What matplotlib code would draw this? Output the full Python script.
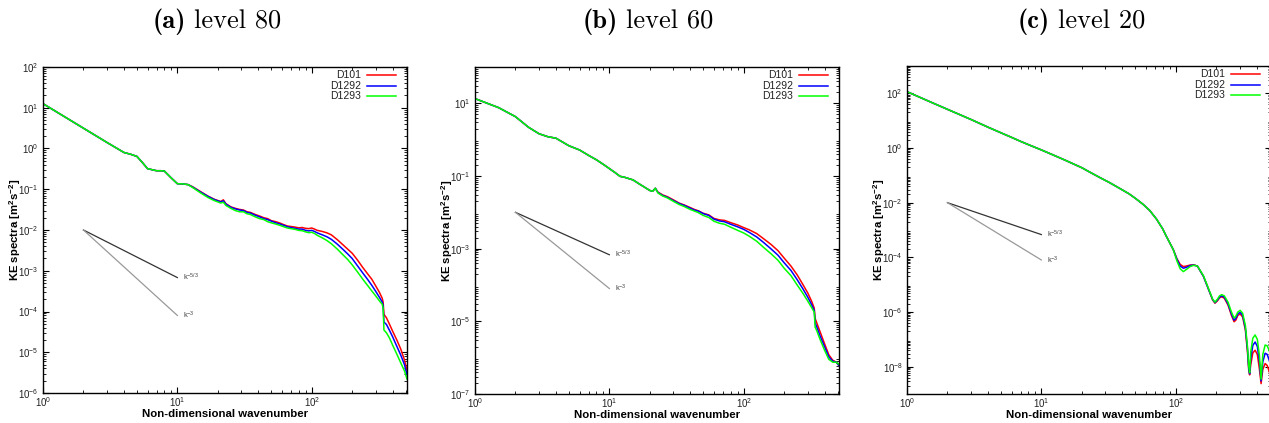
import numpy as np
import matplotlib
matplotlib.use("Agg")
import matplotlib.pyplot as plt
from matplotlib.ticker import LogLocator, LogFormatterSciNotation, NullFormatter, FixedLocator

plt.rcParams['font.family'] = ['Liberation Sans', 'DejaVu Sans']
plt.rcParams['mathtext.fontset'] = 'custom'
plt.rcParams['mathtext.rm'] = 'Liberation Sans'
plt.rcParams['mathtext.it'] = 'Liberation Sans:italic'
plt.rcParams['mathtext.bf'] = 'Liberation Sans:bold'
plt.rcParams['mathtext.default'] = 'regular'

# ---------------- data ----------------
series_names = ['D101', 'D1292', 'D1293']
series_colors = ['#ff0000', '#0000ff', '#00ff00']

# (a) level 80
k_a = [1, 1.5, 2, 3, 4, 4.5, 5, 5.5, 6, 7, 7.5, 8, 9, 10, 11, 12,
       13, 15, 17, 19, 20, 21, 22, 23, 25, 27, 29, 31, 33, 35, 38, 41, 44, 47, 50,
       54, 58, 62, 66, 70, 75, 80, 85, 90, 95, 100, 105, 110, 120, 130, 140, 155,
       170, 185, 200, 220, 240, 260, 280, 300, 320, 335, 340, 345, 360, 380, 400,
       430, 460, 490, 512]
low_a = [12.6, 5.6, 3.15, 1.4, 0.80, 0.72, 0.64, 0.45, 0.32, 0.285, 0.285, 0.28,
         0.19, 0.137, 0.135, 0.13]
d101_a = low_a + [0.115, 0.086, 0.067, 0.056, 0.053, 0.050, 0.055, 0.044, 0.037, 0.034,
                  0.032, 0.031, 0.028, 0.027, 0.024, 0.022, 0.020, 0.019, 0.017, 0.016,
                  0.0148, 0.0135, 0.0125, 0.0122, 0.0118, 0.0113, 0.0115, 0.011, 0.0108,
                  0.0112, 0.0105, 0.0098, 0.0092, 0.0085, 0.0076, 0.0058, 0.0044, 0.0034,
                  0.0027, 0.0018, 0.0012, 0.00085, 0.00062, 0.00042, 0.00029, 0.00021,
                  0.00017, 8.5e-5, 7e-5, 4.8e-5, 3.3e-5, 2.0e-5, 1.2e-5, 6.5e-6, 3.6e-6]
d1292_a = low_a + [0.113, 0.084, 0.066, 0.055, 0.052, 0.049, 0.052, 0.043, 0.036, 0.033,
                   0.031, 0.030, 0.027, 0.026, 0.023, 0.021, 0.019, 0.018, 0.0165, 0.015,
                   0.014, 0.013, 0.012, 0.0115, 0.011, 0.0105, 0.0105, 0.0098, 0.0095,
                   0.0098, 0.0092, 0.0085, 0.0076, 0.0068, 0.0059, 0.0045, 0.0034, 0.0026,
                   0.0020, 0.0013, 0.00088, 0.00062, 0.00044, 0.00031, 0.00022, 0.00017,
                   0.00014, 5.5e-5, 4.8e-5, 3.4e-5, 2.4e-5, 1.4e-5, 8.5e-6, 5e-6, 2.8e-6]
d1293_a = low_a + [0.11, 0.08, 0.062, 0.052, 0.049, 0.046, 0.048, 0.040, 0.034, 0.030,
                   0.028, 0.028, 0.025, 0.024, 0.021, 0.019, 0.018, 0.016, 0.015, 0.014,
                   0.013, 0.012, 0.0112, 0.0108, 0.0104, 0.0098, 0.0096, 0.009, 0.0086,
                   0.0088, 0.0082, 0.0074, 0.0064, 0.0055, 0.0046, 0.0034, 0.0025, 0.0019,
                   0.0014, 0.00092, 0.00062, 0.00044, 0.00032, 0.00024, 0.00018, 0.00015,
                   0.00012, 3.5e-5, 3e-5, 2.2e-5, 1.5e-5, 9e-6, 5.5e-6, 3.5e-6, 2.2e-6]

# (b) level 60
k_b = [1, 1.5, 2, 2.5, 3, 3.5, 4, 5, 6, 7, 8, 9, 10, 11, 12, 13, 15, 17, 19, 20, 21,
       22, 23, 25, 27, 30, 33, 36,
       40, 43, 46, 50, 55, 60, 66, 72, 80, 90, 100, 110, 125, 140, 160, 180, 200,
       225, 250, 275, 300, 320, 335, 340, 350, 370, 400, 430, 460, 490, 512]
low_b = [13.5, 7.6, 4.3, 2.2, 1.45, 1.2, 1.1, 0.68, 0.52, 0.37, 0.28, 0.21, 0.16,
         0.125, 0.098, 0.092, 0.078, 0.058, 0.045, 0.040, 0.038, 0.046]
d101_b = low_b + [0.036, 0.030, 0.027, 0.022, 0.018, 0.016,
                  0.0135, 0.012, 0.011, 0.0094, 0.0085, 0.0068, 0.0062, 0.0060, 0.0052,
                  0.0045, 0.0038, 0.0033, 0.0026, 0.0019, 0.0013, 0.00088, 0.00055,
                  0.00033, 0.00019, 0.000105, 6e-5, 3.6e-5, 2.3e-5, 1.2e-5, 9e-6, 5.2e-6,
                  2.4e-6, 1.2e-6, 8.5e-7, 7.5e-7, 6e-7]
d1292_b = low_b + [0.035, 0.029, 0.026, 0.021, 0.0175, 0.0155,
                   0.013, 0.0115, 0.0108, 0.0092, 0.0082, 0.0065, 0.0058, 0.0055, 0.0047,
                   0.0040, 0.0034, 0.0028, 0.0021, 0.0015, 0.00098, 0.00066, 0.00041,
                   0.00025, 0.00014, 8e-5, 4.6e-5, 2.9e-5, 2.0e-5, 9e-6, 7e-6, 4e-6,
                   2e-6, 1.05e-6, 8e-7, 7.5e-7, 6e-7]
d1293_b = low_b + [0.034, 0.028, 0.025, 0.020, 0.0165, 0.0145,
                   0.012, 0.0108, 0.0098, 0.0082, 0.0072, 0.0057, 0.005, 0.0047, 0.0039,
                   0.0032, 0.0027, 0.0022, 0.0016, 0.0011, 0.00072, 0.00048, 0.00029,
                   0.00018, 0.0001, 6e-5, 3.6e-5, 2.4e-5, 1.8e-5, 7e-6, 5.5e-6, 3.2e-6,
                   1.6e-6, 9e-7, 7.5e-7, 7.5e-7, 6.5e-7]

# (c) level 20
k_c = [1, 1.5, 2, 3, 4, 5, 6, 7, 8, 10, 12, 15, 18, 20, 23, 27, 32, 38, 45, 50, 57,
       64, 72, 80, 85, 90, 96,
       102, 108, 114, 120, 128, 136, 145, 161, 175, 188, 196, 205, 212, 220, 230,
       245, 260, 272, 280, 290, 302, 315, 330, 342, 350, 355, 362, 375, 390, 405,
       420, 432, 445, 463, 480, 495, 512]
low_c = [115, 48, 26, 11, 5.8, 3.6, 2.45, 1.75, 1.33, 0.85, 0.58, 0.36, 0.24, 0.19,
         0.13, 0.085, 0.055, 0.034, 0.021, 0.0145, 0.0088, 0.0052, 0.0025, 0.0011,
         0.0006, 0.00035, 0.00019]
d101_c = low_c + [9e-5, 5.5e-5, 4.6e-5, 4.8e-5, 5.2e-5, 5.3e-5, 4.8e-5, 2.0e-5, 7e-6,
                  2.8e-6, 2.1e-6, 2.6e-6, 3.3e-6, 3.6e-6, 3.2e-6, 1.8e-6, 7.5e-7, 4.4e-7,
                  5e-7, 7.5e-7, 8.5e-7, 6.5e-7, 2.2e-7, 3.5e-8, 7e-9, 5e-9, 1.2e-8,
                  3.2e-8, 4e-8, 2.8e-8, 8e-9, 2.4e-9, 8e-9, 1.3e-8, 1.1e-8, 7e-9, 4e-9]
d1292_c = low_c + [8.5e-5, 4.8e-5, 4e-5, 4.3e-5, 5.0e-5, 5.2e-5, 4.8e-5, 2.0e-5, 7e-6,
                   2.9e-6, 2.2e-6, 2.8e-6, 3.5e-6, 3.9e-6, 3.5e-6, 2.0e-6, 8.5e-7, 5e-7,
                   5.8e-7, 8.5e-7, 9.7e-7, 7.5e-7, 2.6e-7, 4.5e-8, 8e-9, 5.5e-9, 2e-8,
                   6e-8, 8e-8, 5.5e-8, 1.5e-8, 3e-9, 1.5e-8, 3.1e-8, 2.8e-8, 1.8e-8, 1e-8]
d1293_c = low_c + [7.5e-5, 3.8e-5, 3.0e-5, 3.6e-5, 4.6e-5, 5.1e-5, 4.8e-5, 2.1e-5, 7.4e-6,
                   3.0e-6, 2.3e-6, 3.0e-6, 3.9e-6, 4.3e-6, 3.9e-6, 2.3e-6, 1.0e-6, 6e-7,
                   7e-7, 1.0e-6, 1.15e-6, 9e-7, 3.2e-7, 5.5e-8, 1e-8, 6e-9, 3.5e-8,
                   1.1e-7, 1.45e-7, 1e-7, 2.5e-8, 3.5e-9, 2.8e-8, 6.2e-8, 5.8e-8, 4e-8, 2.5e-8]

# reference slopes
k_ref = [2, 10]
ref_53 = [1e-2, 6.8e-4]
ref_3 = [1e-2, 8e-5]

titles = [('(a)', 'level 80'), ('(b)', 'level 60'), ('(c)', 'level 20')]
ylims = [(1e-6, 1e2), (1e-7, 1e2), (1e-9, 1e3)]
panels = [
    (k_a, [d101_a, d1292_a, d1293_a]),
    (k_b, [d101_b, d1292_b, d1293_b]),
    (k_c, [d101_c, d1292_c, d1293_c]),
]

# ---------------- layout (pixels of a 1269x423 image) ----------------
W, H = 1269, 423
fig = plt.figure(figsize=(W / 100, H / 100), dpi=100)
boxes = [(43, 67, 364, 326), (475, 67, 364, 327), (907, 66, 364, 328)]

for i, (box, (kk, ys)) in enumerate(zip(boxes, panels)):
    x0, top, w, h = box
    ax = fig.add_axes([x0 / W, 1 - (top + h) / H, w / W, h / H])
    for vals, c, name in zip(ys, series_colors, series_names):
        ax.plot(kk, vals, color=c, lw=1.1)
    ax.plot(k_ref, ref_53, color='#333333', lw=0.9)
    ax.plot(k_ref, ref_3, color='#999999', lw=0.9)
    ax.text(11, ref_53[1], r'k$^{-5/3}$', fontsize=5.5, color='#444444', va='center')
    ax.text(11, ref_3[1], r'k$^{-3}$', fontsize=5.5, color='#444444', va='center')

    ax.set_xscale('log')
    ax.set_yscale('log')
    ax.set_xlim(1, 512)
    ax.set_ylim(*ylims[i])
    if i == 2:
        ax.yaxis.set_major_locator(FixedLocator([1e2, 1e0, 1e-2, 1e-4, 1e-6, 1e-8]))
        ax.yaxis.set_major_formatter(LogFormatterSciNotation())
    ax.yaxis.set_minor_locator(LogLocator(base=10, subs=np.arange(2, 10), numticks=30))
    ax.xaxis.set_minor_formatter(NullFormatter())
    ax.yaxis.set_minor_formatter(NullFormatter())
    ax.tick_params(which='both', direction='in', top=True, right=True,
                   labelsize=7, labelcolor='#222222')
    ax.tick_params(which='major', length=4, width=0.8, pad=3)
    ax.tick_params(axis='x', which='major', pad=1.5)
    ax.tick_params(which='minor', length=2, width=0.6)
    for s in ax.spines.values():
        s.set_linewidth(1.0)

    ax.set_xlabel('Non-dimensional wavenumber', fontsize=8.2, fontweight='bold')
    ax.set_ylabel(r'KE spectra [m$^2$s$^{-2}$]', fontsize=8.2, fontweight='bold')
    ax.xaxis.set_label_coords(0.5, -0.05)
    ax.yaxis.set_label_coords(-0.055, 0.5)

    # gnuplot-like key: right-aligned labels, line samples on the right
    for j, (c, name) in enumerate(zip(series_colors, series_names)):
        yy = 1 - (8 + 10.7 * j) / h
        ax.plot([0.890, 0.970], [yy, yy], color=c, lw=1.1, transform=ax.transAxes,
                clip_on=False)
        ax.text(0.874, yy, name, fontsize=7.5, ha='right', va='center',
                color='#222222', transform=ax.transAxes)

    # panel title
    cx = x0 + w / 2 - 9
    ty = 1 - 22 / H
    fig.text((cx - 30) / W, ty, titles[i][0], fontsize=19, family='cmb10',
             ha='right', va='center')
    fig.text((cx - 22) / W, ty, titles[i][1], fontsize=19, family='cmr10',
             ha='left', va='center')

fig.savefig('out.png', dpi=100)
